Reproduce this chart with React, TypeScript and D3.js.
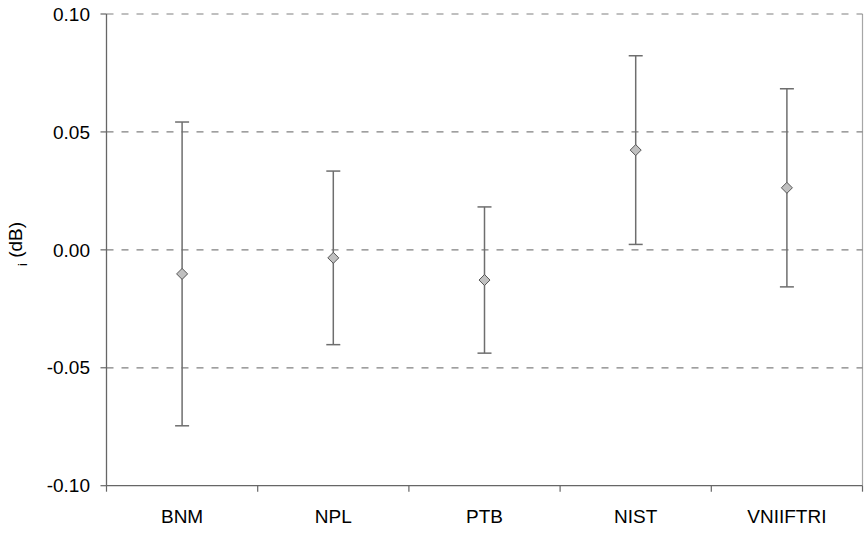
import React from "react";
import * as d3 from "d3";

const labs = ["BNM", "NPL", "PTB", "NIST", "VNIIFTRI"];
const values = [-0.0102, -0.0034, -0.0128, 0.0423, 0.0263];
const uncertainties = [0.0644, 0.0368, 0.031, 0.04, 0.042];
const yTicks = [-0.1, -0.05, 0, 0.05, 0.1];

const W = 867;
const H = 539;
const left = 106.5;
const right = 862.5;
const top = 14;
const bottom = 485.7;
const FONT = "'Liberation Sans', Arial, sans-serif";

export default function App() {
  const x = d3.scaleBand<string>().domain(labs).range([left, right]);
  const y = d3.scaleLinear().domain([-0.1, 0.1]).range([bottom, top]);
  const fmt = d3.format(".2f");
  const cap = 7;
  const dsz = 5.5;
  return (
    <svg width={W} height={H} style={{ position: "absolute", left: 0, top: 0 }}>
      <rect x={0} y={0} width={W} height={H} fill="#ffffff" />
      {/* right border */}
      <line x1={right} x2={right} y1={top} y2={bottom} stroke="#a6a6a6" strokeWidth={1.2} />
      {/* gridlines */}
      {yTicks.filter((t) => t > -0.1).map((t) => (
        <line key={t} x1={left} x2={right} y1={y(t)} y2={y(t)} stroke="#808080" strokeWidth={1.2} strokeDasharray="7,8" />
      ))}
      {/* left axis */}
      <line x1={left} x2={left} y1={top} y2={bottom} stroke="#666666" strokeWidth={1.3} />
      {yTicks.map((t) => (
        <g key={"yt" + t}>
          <line x1={left - 6} x2={left} y1={y(t)} y2={y(t)} stroke="#666666" strokeWidth={1.2} />
          <text x={90} y={y(t)} dy="0.35em" textAnchor="end" fontFamily={FONT} fontSize={19} fill="#000">
            {fmt(t).replace("\u2212", "-")}
          </text>
        </g>
      ))}
      {/* bottom axis */}
      <line x1={left} x2={right} y1={bottom} y2={bottom} stroke="#666666" strokeWidth={1.3} />
      {labs.map((c) => (
        <line key={"bt" + c} x1={x(c)!} x2={x(c)!} y1={bottom} y2={bottom + 6} stroke="#666666" strokeWidth={1.2} />
      ))}
      <line x1={right} x2={right} y1={bottom} y2={bottom + 6} stroke="#666666" strokeWidth={1.2} />
      {labs.map((c) => (
        <text key={"xl" + c} x={x(c)! + x.bandwidth() / 2} y={523} textAnchor="middle" fontFamily={FONT} fontSize={19} fill="#000">
          {c}
        </text>
      ))}
      {/* error bars and markers */}
      {labs.map((c, i) => {
        const cx = x(c)! + x.bandwidth() / 2;
        const yv = y(values[i]);
        const yu = y(values[i] + uncertainties[i]);
        const yl = y(values[i] - uncertainties[i]);
        return (
          <g key={"eb" + c}>
            <line x1={cx} x2={cx} y1={yu} y2={yl} stroke="#6e6e6e" strokeWidth={1.5} />
            <line x1={cx - cap} x2={cx + cap} y1={yu} y2={yu} stroke="#6e6e6e" strokeWidth={1.5} />
            <line x1={cx - cap} x2={cx + cap} y1={yl} y2={yl} stroke="#6e6e6e" strokeWidth={1.5} />
            <path
              d={`M${cx},${yv - dsz} L${cx + dsz},${yv} L${cx},${yv + dsz} L${cx - dsz},${yv} Z`}
              fill="#c0c0c0"
              stroke="#555555"
              strokeWidth={1}
            />
          </g>
        );
      })}
      {/* y label */}
      <text transform={`translate(22,244) rotate(-90)`} textAnchor="middle" fontFamily={FONT} fontSize={19} fill="#000">
        <tspan fontSize={13} dy="5">i</tspan>
        <tspan dy="-5"> (dB)</tspan>
      </text>
    </svg>
  );
}
